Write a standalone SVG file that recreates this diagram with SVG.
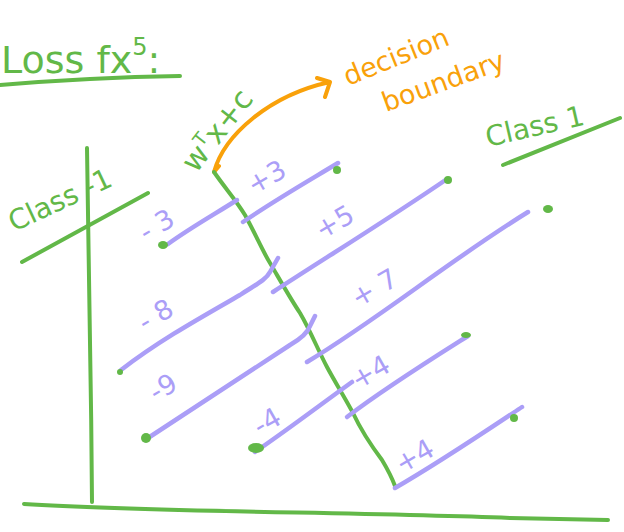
<svg xmlns="http://www.w3.org/2000/svg" width="624" height="532" viewBox="0 0 624 532">
<style>
.g{fill:none;stroke:#62b848;stroke-width:4;stroke-linecap:round;stroke-linejoin:round}
.p{fill:none;stroke:#ab9ef7;stroke-width:4.5;stroke-linecap:round;stroke-linejoin:round}
.o{fill:none;stroke:#f9a10a;stroke-width:4;stroke-linecap:round;stroke-linejoin:round}
.dot{fill:#62b848}
text{font-family:"DejaVu Sans","Liberation Sans",sans-serif}
.tg{fill:#62b848}
.tp{fill:#ab9ef7;font-size:27px}
.to{fill:#f9a10a;font-size:27px}
</style>
<rect width="624" height="532" fill="#ffffff"/>
<g id="title">
<text class="tg" x="1" y="73" font-size="38">Loss fx<tspan dy="-18" font-size="24">5</tspan><tspan dy="18">:</tspan></text>
<path class="g" d="M0,85 C60,80 120,77 180,76"/>
</g>
<g id="axes">
<path class="g" d="M87,148 C89,250 91,380 92,502"/>
<path class="g" d="M24,504 C150,512 350,512 510,518 L608,520"/>
</g>
<g id="class-minus-1">
<text class="tg" font-size="28" transform="translate(14,232) rotate(-25)">Class -1</text>
<path class="g" d="M22,262 L148,193"/>
</g>
<g id="class-1">
<text class="tg" font-size="28" transform="translate(488,147) rotate(-13)">Class 1</text>
<path class="g" d="M503,165 L620,118"/>
</g>
<g id="boundary-label">
<text class="tg" font-size="30" transform="translate(196,174) rotate(-52)">w<tspan dy="-12" font-size="18">T</tspan><tspan dy="12">x+c</tspan></text>
</g>
<g id="decision-label">
<text class="to" transform="translate(348,86) rotate(-22)">decision</text>
<text class="to" transform="translate(386,112) rotate(-20)">boundary</text>
</g>
<g id="connectors">
<path class="o" d="M214,172 C224,135 270,95 330,82 M317,78 L330,82 L325,97 M214,172 L219,166"/>
<path class="g" d="M214,172 C225,188 236,200 245,215 C256,235 262,250 270,263 C280,280 290,298 300,313 C310,330 318,350 327,367 C335,382 345,398 353,413 C360,428 370,444 382,460 C388,470 392,478 395,486" stroke-width="3.5"/>
</g>
<g id="points">
<path class="p" d="M168,244 C190,228 215,214 237,200"/>
<path class="p" d="M243,222 C275,200 310,180 338,163"/>
<path class="p" d="M121,370 C160,340 200,318 240,295 C255,285 266,280 270,272 L278,258"/>
<path class="p" d="M273,292 C330,255 390,218 447,179"/>
<path class="p" d="M145,440 C190,410 240,378 290,345 C302,338 308,332 310,326 L315,316"/>
<path class="p" d="M307,362 C380,318 450,260 528,212"/>
<path class="p" d="M255,452 C290,428 320,405 352,382"/>
<path class="p" d="M347,417 C385,388 430,360 468,336"/>
<path class="p" d="M395,488 C440,462 480,435 522,407"/>
<ellipse class="dot" cx="163" cy="245" rx="5" ry="4"/>
<ellipse class="dot" cx="337" cy="170" rx="4" ry="4"/>
<ellipse class="dot" cx="448" cy="180" rx="4" ry="4"/>
<ellipse class="dot" cx="120" cy="372" rx="3" ry="3"/>
<ellipse class="dot" cx="548" cy="209" rx="5" ry="4"/>
<ellipse class="dot" cx="146" cy="438" rx="5" ry="5"/>
<ellipse class="dot" cx="256" cy="448" rx="8" ry="5"/>
<ellipse class="dot" cx="466" cy="335" rx="5" ry="3"/>
<ellipse class="dot" cx="514" cy="418" rx="4" ry="4"/>
<text class="tp" transform="translate(146,242) rotate(-30)">- 3</text>
<text class="tp" transform="translate(254,195) rotate(-30)">+3</text>
<text class="tp" transform="translate(322,240) rotate(-30)">+5</text>
<text class="tp" transform="translate(145,332) rotate(-30)">- 8</text>
<text class="tp" transform="translate(358,308) rotate(-30)">+ 7</text>
<text class="tp" transform="translate(156,402) rotate(-30)">-9</text>
<text class="tp" transform="translate(260,436) rotate(-30)">-4</text>
<text class="tp" transform="translate(358,390) rotate(-30)">+4</text>
<text class="tp" transform="translate(402,474) rotate(-30)">+4</text>
</g>
</svg>
